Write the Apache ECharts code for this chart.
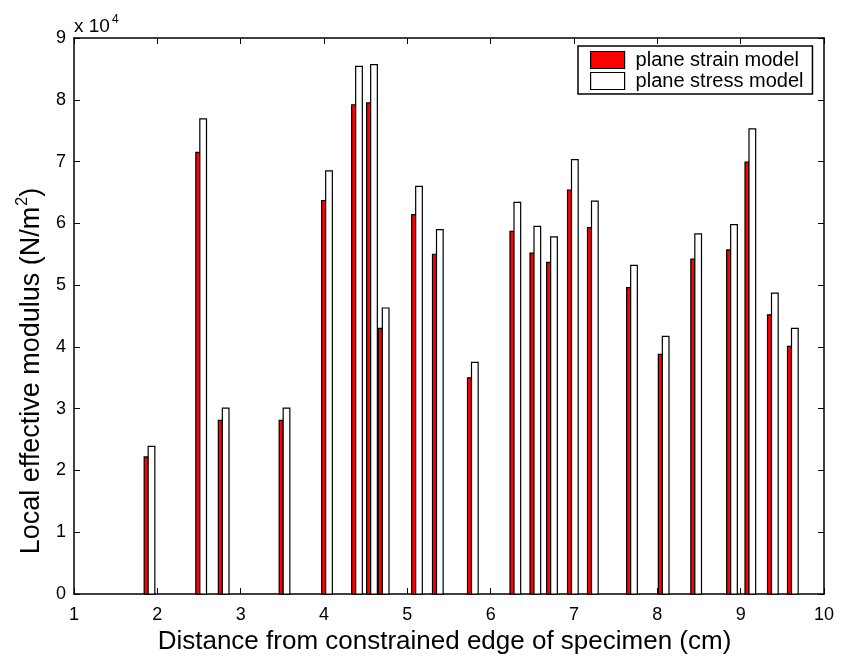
<!DOCTYPE html>
<html><head><meta charset="utf-8">
<script src="https://cdn.jsdelivr.net/npm/echarts@6/dist/echarts.min.js"></script>
<style>html,body{margin:0;padding:0;background:#fff}#c{width:842px;height:660px}</style>
</head><body><div id="c"></div>
<script>
// Distance from constrained edge (cm) of each bar pair (pair boundary)
const positions = [1.89, 2.51, 2.78, 3.51, 4.02, 4.38, 4.56, 4.70, 5.10, 5.35, 5.77, 6.28, 6.52, 6.72, 6.97, 7.21, 7.68, 8.06, 8.45, 8.88, 9.10, 9.37, 9.61];
// Local effective modulus, in units of 10^4 N/m^2
const strainValues = [2.22, 7.15, 2.81, 2.81, 6.37, 7.92, 7.95, 4.30, 6.14, 5.50, 3.50, 5.87, 5.52, 5.37, 6.54, 5.93, 4.96, 3.88, 5.42, 5.57, 6.99, 4.52, 4.01];
const stressValues = [2.39, 7.69, 3.01, 3.01, 6.85, 8.54, 8.57, 4.63, 6.60, 5.90, 3.75, 6.34, 5.95, 5.78, 7.03, 6.36, 5.32, 4.17, 5.83, 5.98, 7.53, 4.87, 4.30];
const seriesNames = ['plane strain model', 'plane stress model'];
const xName = 'Distance from constrained edge of specimen (cm)';
const yName = 'Local effective modulus (N/m{sup|2})';

const FONT = 'Arial, "Liberation Sans", Helvetica, sans-serif';
const chart = echarts.init(document.getElementById('c'));

function barSeries(name, values, side, color) {
  const w = side < 0 ? 0.048 : 0.08;
  return {
    type: 'custom', name: name,
    data: positions.map((x, i) => [x, values[i]]),
    encode: { x: 0, y: 1 },
    itemStyle: { color: color, borderColor: '#000', borderWidth: 1 },
    renderItem: function (params, api) {
      const x = api.value(0), y = api.value(1);
      const x0 = side < 0 ? x - w : x, x1 = side < 0 ? x : x + w;
      const pA = api.coord([x0, 0]), pB = api.coord([x1, y]);
      return {
        type: 'rect',
        shape: { x: pA[0], y: pB[1], width: pB[0] - pA[0], height: pA[1] - pB[1] },
        style: { fill: color, stroke: '#000', lineWidth: 1.2 }
      };
    }
  };
}

const axisLine = { show: true, onZero: false, lineStyle: { color: '#000', width: 1.5 } };
const axisTick = { show: true, inside: true, length: 6, lineStyle: { color: '#000', width: 1 } };

chart.setOption({
  animation: false,
  backgroundColor: '#fff',
  grid: { left: 74, right: 18, top: 38, bottom: 63, containLabel: false },
  xAxis: [{
    type: 'value', min: 1, max: 10, interval: 1, position: 'bottom',
    axisLine: axisLine, axisTick: axisTick, splitLine: { show: false },
    axisLabel: { color: '#000', fontSize: 18, fontFamily: FONT, margin: 12 },
    name: xName, nameLocation: 'middle', nameGap: 30,
    nameTextStyle: { color: '#000', fontSize: 26, fontFamily: FONT, padding: [0, 9, 0, 0] }
  }, {
    type: 'value', min: 1, max: 10, interval: 1, position: 'top',
    axisLine: axisLine, axisTick: axisTick, splitLine: { show: false },
    axisLabel: { show: false }
  }],
  yAxis: [{
    type: 'value', min: 0, max: 9, interval: 1, position: 'left',
    axisLine: axisLine, axisTick: axisTick, splitLine: { show: false },
    axisLabel: { color: '#000', fontSize: 18, fontFamily: FONT, margin: 8 },
    name: yName, nameLocation: 'middle', nameGap: 24, nameRotate: 90,
    nameTextStyle: {
      color: '#000', fontSize: 27, fontFamily: FONT, padding: [0, 110, 0, 0],
      rich: { sup: { fontSize: 16, fontFamily: FONT, color: '#000', padding: [0, 0, 18, 1] } }
    }
  }, {
    type: 'value', min: 0, max: 9, interval: 1, position: 'right',
    axisLine: axisLine, axisTick: axisTick, splitLine: { show: false },
    axisLabel: { show: false }
  }],
  legend: {
    orient: 'vertical', left: 578, top: 46,
    padding: [4, 9, 3, 12], itemWidth: 34, itemHeight: 17, itemGap: 1,
    borderColor: '#000', borderWidth: 1.5, backgroundColor: '#fff',
    selectedMode: false,
    textStyle: { color: '#000', fontSize: 20, fontFamily: FONT, padding: [0, 0, 0, 6] },
    data: [
      { name: seriesNames[0], icon: 'rect', itemStyle: { color: '#ff0000', borderColor: '#000', borderWidth: 1.2 } },
      { name: seriesNames[1], icon: 'rect', itemStyle: { color: '#ffffff', borderColor: '#000', borderWidth: 1.2 } }
    ]
  },
  graphic: [{
    type: 'text', left: 74, top: 14,
    style: {
      text: 'x 10{s|4}', fill: '#000', font: '19px ' + FONT,
      rich: { s: { fontSize: 12, fontFamily: FONT, fill: '#000', padding: [0, 0, 13, 2] } }
    }
  }],
  series: [
    barSeries(seriesNames[0], strainValues, -1, '#ff0000'),
    barSeries(seriesNames[1], stressValues, 1, '#ffffff')
  ]
});
</script></body></html>
